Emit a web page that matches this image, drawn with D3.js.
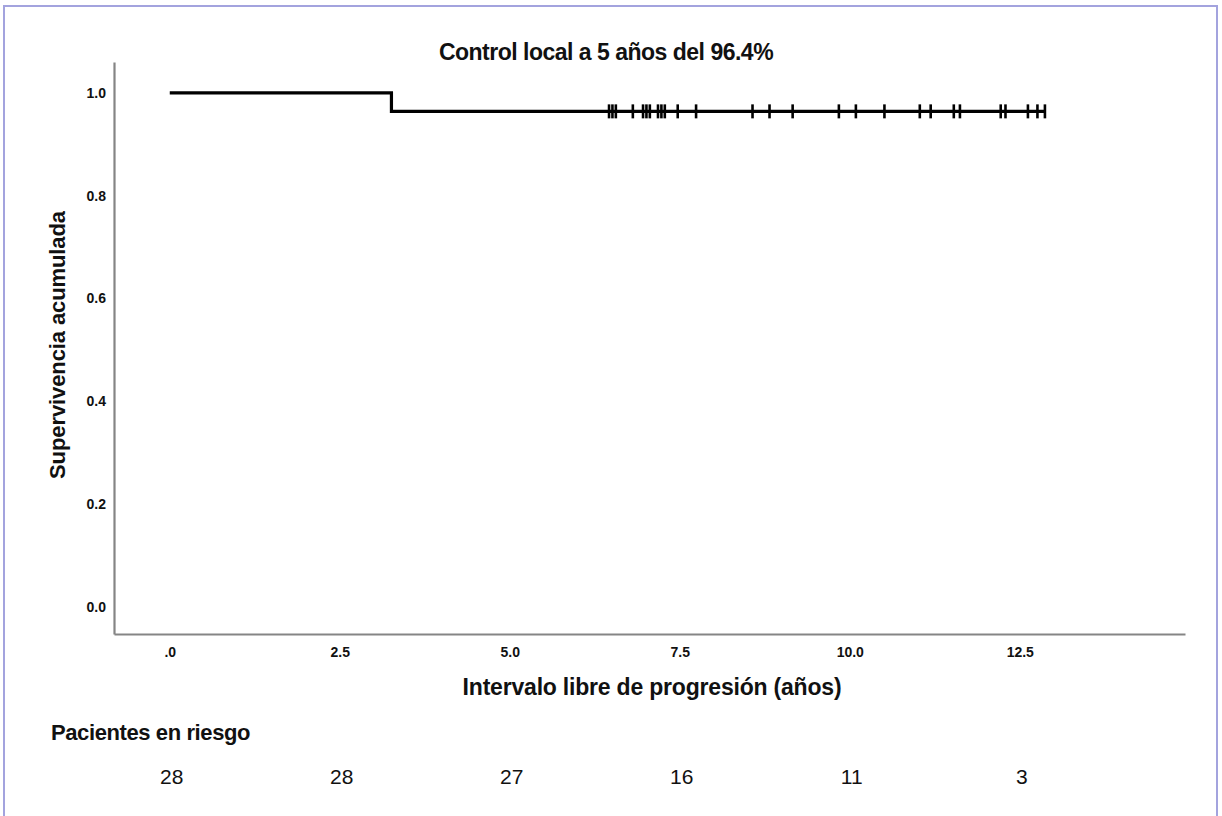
<!DOCTYPE html>
<html>
<head>
<meta charset="utf-8">
<script src="https://cdn.jsdelivr.net/npm/d3@7"></script>
<style>
  body { margin: 0; background: #fff; }
  svg text { font-family: "Liberation Sans", Arial, sans-serif; fill: #111; }
</style>
</head>
<body>
<svg id="km" width="1222" height="816"></svg>
<script>
// Kaplan-Meier: control local

const titleText = "Control local a 5 años del 96.4%";
const xLabel = "Intervalo libre de progresión (años)";
const yLabel = "Supervivencia acumulada";
const riskLabel = "Pacientes en riesgo";

// survival steps (time in years, cumulative survival)
const stepTimes = [0, 3.26, 12.87];
const stepSurv = [1.0, 0.964, 0.964];

// censored patients
const censorTimes = [6.46, 6.51, 6.56, 6.81, 6.96, 7.01, 7.06, 7.18, 7.23, 7.28, 7.47,
  7.74, 8.57, 8.82, 9.16, 9.84,
  10.09, 10.51, 11.03, 11.19, 11.53, 11.62, 12.22, 12.29,
  12.62, 12.76, 12.87];
const censorSurv = 0.964;

const xTicks = [0, 2.5, 5, 7.5, 10, 12.5];
const xTickLabels = [".0", "2.5", "5.0", "7.5", "10.0", "12.5"];
const yTicks = [0, 0.2, 0.4, 0.6, 0.8, 1.0];
const yTickLabels = ["0.0", "0.2", "0.4", "0.6", "0.8", "1.0"];

const riskTimes = [0, 2.5, 5, 7.5, 10, 12.5];
const riskCounts = [28, 28, 27, 16, 11, 3];

const svg = d3.select("#km");

// frame
svg.append("rect")
  .attr("x", 4).attr("y", 6)
  .attr("width", 1213).attr("height", 830)
  .attr("fill", "none")
  .attr("stroke", "#a3a3de")
  .attr("stroke-width", 2);

const x = d3.scaleLinear().domain([-0.82, 14.93]).range([114, 1185]);
const y = d3.scaleLinear().domain([-0.0525, 1.06]).range([634, 62]);

// axes
const gx = svg.append("g")
  .attr("transform", "translate(0,634)")
  .call(d3.axisBottom(x).tickValues(xTicks)
    .tickFormat((d, i) => xTickLabels[i])
    .tickSize(0).tickSizeOuter(0).tickPadding(13));

const gy = svg.append("g")
  .attr("transform", "translate(114,0)")
  .call(d3.axisLeft(y).tickValues(yTicks)
    .tickFormat((d, i) => yTickLabels[i])
    .tickSize(0).tickSizeOuter(0).tickPadding(8));

[gx, gy].forEach(g => {
  g.select(".domain").attr("stroke", "#858585").attr("stroke-width", 2.2);
  g.selectAll("text")
    .style("font-size", "14px")
    .style("font-weight", "bold")
    .style("font-family", "'Liberation Sans', Arial, sans-serif")
    .attr("fill", "#222");
});

// survival curve
const curve = d3.line()
  .x((d, i) => x(stepTimes[i]))
  .y((d, i) => y(stepSurv[i]))
  .curve(d3.curveStepAfter);

svg.append("path")
  .datum(stepTimes)
  .attr("d", curve)
  .attr("fill", "none")
  .attr("stroke", "#000")
  .attr("stroke-width", 3.2);

// censor marks
svg.append("g").selectAll("line")
  .data(censorTimes)
  .join("line")
  .attr("x1", d => x(d)).attr("x2", d => x(d))
  .attr("y1", y(censorSurv) - 7).attr("y2", y(censorSurv) + 7)
  .attr("stroke", "#000")
  .attr("stroke-width", 2.6);

// title & axis labels
svg.append("text")
  .attr("x", 606).attr("y", 60)
  .attr("text-anchor", "middle")
  .style("font-size", "23px").style("font-weight", "bold")
  .style("letter-spacing", "-0.5px")
  .text(titleText);

svg.append("text")
  .attr("x", 652).attr("y", 695)
  .attr("text-anchor", "middle")
  .style("font-size", "23px").style("font-weight", "bold")
  .style("letter-spacing", "-0.2px")
  .text(xLabel);

svg.append("text")
  .attr("transform", "translate(65,345) rotate(-90)")
  .attr("text-anchor", "middle")
  .style("font-size", "22px").style("font-weight", "bold")
  .style("letter-spacing", "-0.1px")
  .text(yLabel);

// number at risk
svg.append("text")
  .attr("x", 51).attr("y", 740)
  .style("font-size", "22px").style("font-weight", "bold")
  .style("letter-spacing", "-0.4px")
  .text(riskLabel);

svg.append("g").selectAll("text")
  .data(riskCounts)
  .join("text")
  .attr("x", (d, i) => x(riskTimes[i]) + 2)
  .attr("y", 784)
  .attr("text-anchor", "middle")
  .style("font-size", "21px")
  .text(d => d);
</script>
</body>
</html>
